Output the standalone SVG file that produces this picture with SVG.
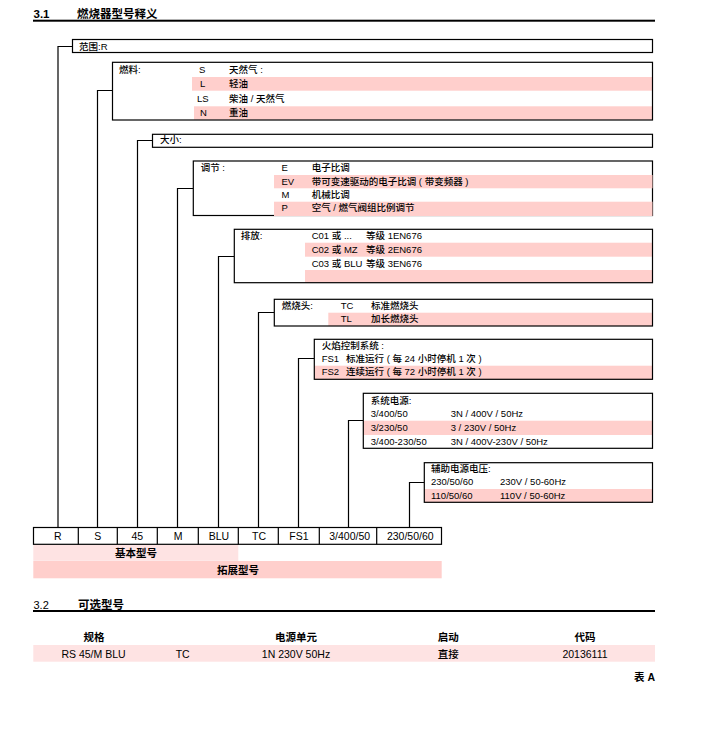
<svg xmlns="http://www.w3.org/2000/svg" width="705" height="731" viewBox="0 0 705 731">
<style>
text{font-family:"Liberation Sans","Noto Sans CJK SC",sans-serif;fill:#000}
.t{font-size:9.5px;font-weight:500}
.c{font-size:10.5px;text-anchor:middle;font-weight:500}
.h{font-size:11.5px;font-weight:bold}
.hb{font-size:10.5px;font-weight:bold;text-anchor:middle}
.box{fill:none;stroke:#000;stroke-width:1.2}
.pk{fill:#ffcfcc}
.lp{fill:#fee3e3}
.ln{fill:none;stroke:#000;stroke-width:1.2}
</style>
<rect width="705" height="731" fill="#fff"/>
<g id="title31">
<text class="h" x="33.5" y="17.5">3.1</text>
<text class="h" x="77" y="17.5">燃烧器型号释义</text>
<rect x="33" y="19.7" width="622" height="2" fill="#000"/>
</g>
<g id="connectors">
<polyline class="ln" points="72,46.5 58,46.5 58,527.5"/>
<polyline class="ln" points="112,90.5 97.5,90.5 97.5,527.5"/>
<polyline class="ln" points="152,140.5 137.5,140.5 137.5,527.5"/>
<polyline class="ln" points="193,188.5 177.5,188.5 177.5,527.5"/>
<polyline class="ln" points="234,256.5 218.5,256.5 218.5,527.5"/>
<polyline class="ln" points="274,312.5 258.5,312.5 258.5,527.5"/>
<polyline class="ln" points="314,358.5 298.5,358.5 298.5,527.5"/>
<polyline class="ln" points="363,420.5 348.5,420.5 348.5,527.5"/>
<polyline class="ln" points="424,482.5 409.5,482.5 409.5,527.5"/>
</g>
<g id="range">
<rect class="box" x="72.5" y="39.5" width="580" height="13"/>
<text class="t" x="79" y="49.5">范围:R</text>
</g>
<g id="fuel">
<rect class="pk" x="192" y="77" width="460.5" height="13.7"/>
<rect class="pk" x="194" y="106.3" width="458.5" height="13.4"/>
<rect class="box" x="112.5" y="62.3" width="540" height="57.7"/>
<text class="t" x="119" y="72.7">燃料:</text>
<text class="t" x="199" y="72.7">S</text><text class="t" x="229" y="72.7">天然气 :</text>
<text class="t" x="200" y="87">L</text><text class="t" x="229" y="87">轻油</text>
<text class="t" x="197" y="102">LS</text><text class="t" x="229" y="102">柴油 / 天然气</text>
<text class="t" x="200" y="115.7">N</text><text class="t" x="229" y="115.7">重油</text>
</g>
<g id="size">
<rect class="box" x="152.5" y="134.3" width="500" height="13"/>
<text class="t" x="160" y="143.2">大小:</text>
</g>
<g id="regulation">
<rect class="box" x="193.3" y="161" width="459.2" height="54.5"/>
<rect class="pk" x="274" y="175" width="378.5" height="13.3"/>
<rect class="pk" x="274" y="201.7" width="378.5" height="14.3"/>
<text class="t" x="200.7" y="171">调节 :</text>
<text class="t" x="281.5" y="171">E</text><text class="t" x="311.7" y="171">电子比调</text>
<text class="t" x="281.5" y="185">EV</text><text class="t" x="311.7" y="185">带可变速驱动的电子比调 ( 带变频器 )</text>
<text class="t" x="281.5" y="198.4">M</text><text class="t" x="311.7" y="198.4">机械比调</text>
<text class="t" x="281.5" y="210.7">P</text><text class="t" x="311.7" y="210.7">空气 / 燃气阀组比例调节</text>
</g>
<g id="emission">
<rect class="pk" x="305" y="242.7" width="347.5" height="14"/>
<rect class="pk" x="305" y="270" width="347.5" height="12.7"/>
<rect class="box" x="234.3" y="229.3" width="418.2" height="53.4"/>
<text class="t" x="240.7" y="239.4">排放:</text>
<text class="t" x="311.7" y="239.4">C01 或 ...</text><text class="t" x="366" y="239.4">等级 1EN676</text>
<text class="t" x="311.7" y="252.9">C02 或 MZ</text><text class="t" x="366" y="252.9">等级 2EN676</text>
<text class="t" x="311.7" y="266.7">C03 或 BLU</text><text class="t" x="366" y="266.7">等级 3EN676</text>
</g>
<g id="head">
<rect class="pk" x="328.3" y="312.7" width="324.2" height="13.3"/>
<rect class="box" x="274.3" y="299.3" width="378.2" height="26.7"/>
<text class="t" x="281.7" y="309.1">燃烧头:</text>
<text class="t" x="340.7" y="309.1">TC</text><text class="t" x="371" y="309.1">标准燃烧头</text>
<text class="t" x="340.7" y="322.4">TL</text><text class="t" x="371" y="322.4">加长燃烧头</text>
</g>
<g id="flame">
<rect class="pk" x="314.3" y="365.7" width="338.2" height="13.6"/>
<rect class="box" x="314.3" y="339.3" width="338.2" height="40"/>
<text class="t" x="321.7" y="349.1">火焰控制系统 :</text>
<text class="t" x="321.7" y="362.4">FS1</text><text class="t" x="346" y="362.4">标准运行 ( 每 24 小时停机 1 次 )</text>
<text class="t" x="321.7" y="375.1">FS2</text><text class="t" x="346" y="375.1">连续运行 ( 每 72 小时停机 1 次 )</text>
</g>
<g id="power">
<rect class="pk" x="363.3" y="420.7" width="289.2" height="14.3"/>
<rect class="box" x="363.3" y="393.3" width="289.2" height="55"/>
<text class="t" x="370.7" y="404.1">系统电源:</text>
<text class="t" x="370.7" y="417.4">3/400/50</text><text class="t" x="450.7" y="417.4">3N / 400V / 50Hz</text>
<text class="t" x="370.7" y="431.1">3/230/50</text><text class="t" x="450.7" y="431.1">3 / 230V / 50Hz</text>
<text class="t" x="370.7" y="445.1">3/400-230/50</text><text class="t" x="450.7" y="445.1">3N / 400V-230V / 50Hz</text>
</g>
<g id="aux">
<rect class="pk" x="424.3" y="489" width="228.2" height="13.3"/>
<rect class="box" x="424.3" y="462.7" width="228.2" height="39.6"/>
<text class="t" x="431" y="472.4">辅助电源电压:</text>
<text class="t" x="431" y="485.1">230/50/60</text><text class="t" x="500" y="485.1">230V / 50-60Hz</text>
<text class="t" x="431" y="498.7">110/50/60</text><text class="t" x="500" y="498.7">110V / 50-60Hz</text>
</g>
<g id="code-row">
<rect class="box" x="33.5" y="527.5" width="408" height="16.8"/>
<path class="ln" d="M78.3,527.5V544.3M117.3,527.5V544.3M157.3,527.5V544.3M198.3,527.5V544.3M238.3,527.5V544.3M278.3,527.5V544.3M319.3,527.5V544.3M376.7,527.5V544.3"/>
<text class="c" x="57.7" y="540.3">R</text>
<text class="c" x="97.7" y="540.3">S</text>
<text class="c" x="137.3" y="540.3">45</text>
<text class="c" x="178" y="540.3">M</text>
<text class="c" x="219" y="540.3">BLU</text>
<text class="c" x="259" y="540.3">TC</text>
<text class="c" x="299" y="540.3">FS1</text>
<text class="c" x="349.7" y="540.3">3/400/50</text>
<text class="c" x="410.3" y="540.3">230/50/60</text>
</g>
<g id="basic">
<rect class="lp" x="33.3" y="545" width="205" height="15.8"/>
<text class="hb" x="136" y="556.5">基本型号</text>
</g>
<g id="extended">
<rect class="pk" x="33.3" y="561" width="408.4" height="17.3"/>
<text class="hb" x="238" y="573.8">拓展型号</text>
</g>
<g id="title32">
<text x="33.5" y="609" style="font-size:11px">3.2</text>
<text x="78" y="609" style="font-size:11.5px;font-weight:600">可选型号</text>
<rect x="33" y="610" width="622" height="2" fill="#000"/>
</g>
<g id="table">
<text class="hb" x="94" y="640.5">规格</text>
<text class="hb" x="296" y="640.5">电源单元</text>
<text class="hb" x="448.3" y="640.5">启动</text>
<text class="hb" x="585" y="640.5">代码</text>
<rect class="lp" x="33.3" y="645" width="621.7" height="16.7"/>
<text class="c" x="93.5" y="657.8">RS 45/M BLU</text>
<text class="c" x="182.7" y="657.8">TC</text>
<text class="c" x="296" y="657.8">1N 230V 50Hz</text>
<text class="c" x="448.3" y="657.8">直接</text>
<text class="c" x="585" y="657.8">20136111</text>
<text x="655" y="680.5" style="font-size:10.5px;font-weight:bold;text-anchor:end">表 A</text>
</g>
</svg>
